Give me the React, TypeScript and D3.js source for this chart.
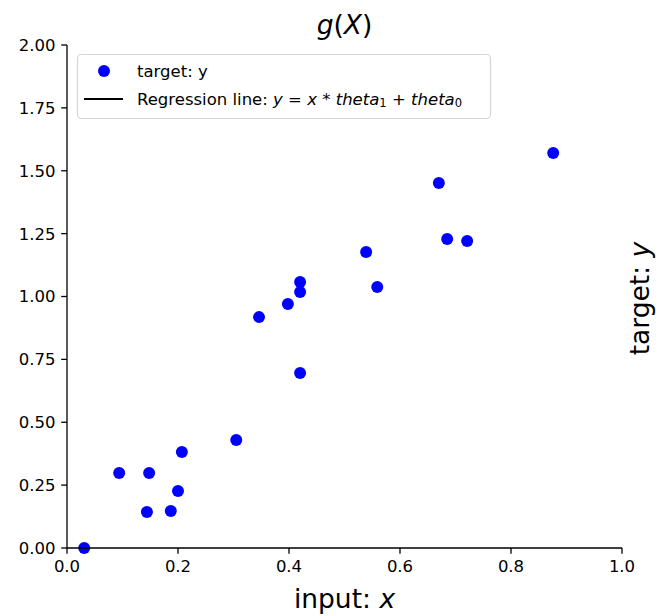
import React from "react";
import * as d3 from "d3";

const xValues = [0.031, 0.094, 0.148, 0.144, 0.187, 0.2, 0.207, 0.305, 0.346, 0.398, 0.42, 0.42, 0.42, 0.539, 0.559, 0.67, 0.685, 0.721, 0.876];
const yValues = [0.0, 0.298, 0.298, 0.143, 0.147, 0.227, 0.382, 0.429, 0.918, 0.97, 1.058, 1.018, 0.696, 1.177, 1.038, 1.451, 1.229, 1.221, 1.571];
const xTicks = [0, 0.2, 0.4, 0.6, 0.8, 1.0];
const yTicks = [0, 0.25, 0.5, 0.75, 1.0, 1.25, 1.5, 1.75, 2.0];

const W = 656;
const H = 616;
const FONT = "'DejaVu Sans', sans-serif";

export default function App() {
  const x = d3.scaleLinear().domain([0, 1]).range([67, 622]);
  const y = d3.scaleLinear().domain([0, 2]).range([548, 45]);
  const tickLen = 5.8;
  const tickFs = 16.5;
  const labelFs = 26.5;
  const points = xValues.map((v, i) => ({ x: v, y: yValues[i] }));

  return (
    <svg
      width={W}
      height={H}
      style={{ position: "absolute", left: 0, top: 0, background: "#fff" }}
      fontFamily={FONT}
    >
      <rect x={0} y={0} width={W} height={H} fill="#fff" />
      {/* points */}
      {points.map((p, i) => (
        <circle key={i} cx={x(p.x)} cy={y(p.y)} r={6} fill="#0000ff" />
      ))}
      {/* spines */}
      <line x1={x(0)} x2={x(0)} y1={y(0)} y2={y(2)} stroke="#000" strokeWidth={1.3} />
      <line x1={x(0)} x2={x(1)} y1={y(0)} y2={y(0)} stroke="#000" strokeWidth={1.3} />
      {/* x ticks */}
      {xTicks.map((t) => (
        <g key={"x" + t}>
          <line x1={x(t)} x2={x(t)} y1={y(0)} y2={y(0) + tickLen} stroke="#000" strokeWidth={1.3} />
          <text x={x(t)} y={y(0) + tickLen + 5.8 + tickFs * 0.76} textAnchor="middle" fontSize={tickFs} fill="#000">
            {d3.format(".1f")(t)}
          </text>
        </g>
      ))}
      {/* y ticks */}
      {yTicks.map((t) => (
        <g key={"y" + t}>
          <line x1={x(0) - tickLen} x2={x(0)} y1={y(t)} y2={y(t)} stroke="#000" strokeWidth={1.3} />
          <text x={x(0) - tickLen - 5.8} y={y(t)} dy="0.36em" textAnchor="end" fontSize={tickFs} fill="#000">
            {d3.format(".2f")(t)}
          </text>
        </g>
      ))}
      {/* title */}
      <text x={(x(0) + x(1)) / 2} y={34} textAnchor="middle" fontSize={labelFs} fill="#000">
        <tspan fontStyle="italic">g</tspan>
        <tspan>(</tspan>
        <tspan fontStyle="italic">X</tspan>
        <tspan>)</tspan>
      </text>
      {/* x label */}
      <text x={(x(0) + x(1)) / 2} y={608} textAnchor="middle" fontSize={labelFs} fill="#000">
        <tspan>input: </tspan>
        <tspan fontStyle="italic">x</tspan>
      </text>
      {/* y label on right */}
      <text
        transform={`translate(649, ${(y(0) + y(2)) / 2 + 2}) rotate(-90)`}
        textAnchor="middle"
        fontSize={labelFs}
        fill="#000"
      >
        <tspan>target: </tspan>
        <tspan fontStyle="italic">y</tspan>
      </text>
      {/* legend */}
      <g>
        <rect x={77.5} y={54.5} width={413} height={64} rx={4} ry={4} fill="#fff" fillOpacity={0.8} stroke="#d6d6d6" strokeWidth={1.2} />
        <circle cx={104} cy={71} r={6} fill="#0000ff" />
        <text x={137} y={71} dy="0.35em" fontSize={tickFs} fill="#000">target: y</text>
        <line x1={84} x2={123} y1={99} y2={99} stroke="#000" strokeWidth={2} />
        <text x={137} y={99} dy="0.35em" fontSize={tickFs} fill="#000">
          <tspan>Regression line: </tspan>
          <tspan fontStyle="italic">y</tspan>
          <tspan> = </tspan>
          <tspan fontStyle="italic">x</tspan>
          <tspan> * </tspan>
          <tspan fontStyle="italic">theta</tspan>
          <tspan fontSize={tickFs * 0.7} dy="0.2em">1</tspan>
          <tspan dy="-0.14em"> + </tspan>
          <tspan fontStyle="italic">theta</tspan>
          <tspan fontSize={tickFs * 0.7} dy="0.2em">0</tspan>
        </text>
      </g>
    </svg>
  );
}
